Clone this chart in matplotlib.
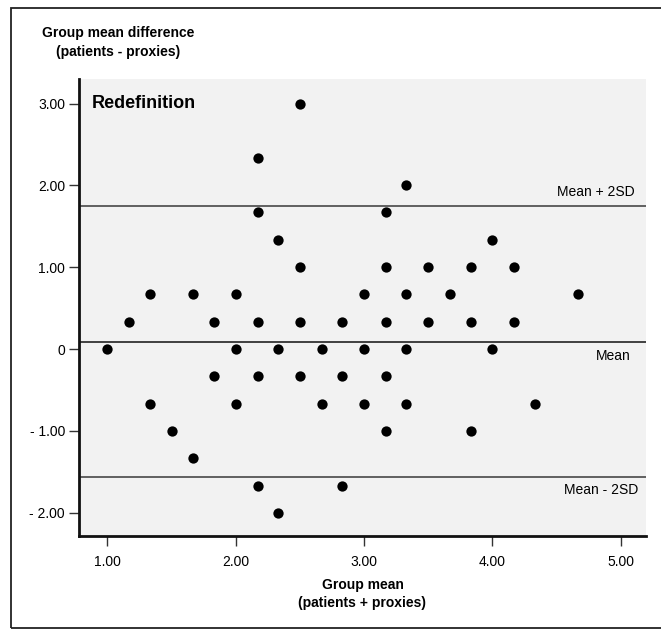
import matplotlib
matplotlib.use("Agg")
import matplotlib.pyplot as plt
from matplotlib.patches import Rectangle

plt.rcParams['font.family'] = ['Liberation Sans', 'DejaVu Sans']

# group mean (x) and group mean difference (y)
group_mean = [1.00, 1.17, 1.33, 1.33, 1.50, 1.67, 1.67, 1.83, 1.83,
              2.00, 2.00, 2.00, 2.17, 2.17, 2.17, 2.17, 2.17,
              2.33, 2.33, 2.33, 2.50, 2.50, 2.50, 2.50,
              2.67, 2.67, 2.83, 2.83, 2.83,
              3.00, 3.00, 3.00, 3.17, 3.17, 3.17, 3.17, 3.17,
              3.33, 3.33, 3.33, 3.33, 3.50, 3.50, 3.67,
              3.83, 3.83, 3.83, 4.00, 4.00, 4.17, 4.17, 4.33, 4.67]
mean_diff = [0.00, 0.33, 0.67, -0.67, -1.00, -1.33, 0.67, 0.33, -0.33,
             0.67, 0.00, -0.67, 2.33, 1.67, 0.33, -0.33, -1.67,
             1.33, 0.00, -2.00, 3.00, 1.00, 0.33, -0.33,
             0.00, -0.67, 0.33, -0.33, -1.67,
             0.67, 0.00, -0.67, 1.67, 1.00, 0.33, -0.33, -1.00,
             2.00, 0.67, 0.00, -0.67, 1.00, 0.33, 0.67,
             1.00, 0.33, -1.00, 1.33, 0.00, 1.00, 0.33, -0.67, 0.67]

ref_values = [1.75, 0.085, -1.56]
ref_labels = ["Mean + 2SD", "Mean", "Mean - 2SD"]

xticks = [1, 2, 3, 4, 5]
xtick_labels = ["1.00", "2.00", "3.00", "4.00", "5.00"]
yticks = [3, 2, 1, 0, -1, -2]
ytick_labels = ["3.00", "2.00", "1.00", "0", "- 1.00", "- 2.00"]

fig = plt.figure(figsize=(6.61, 6.31), dpi=100)
ax = fig.add_axes([0.1195, 0.1506, 0.8578, 0.7242])
ax.set_facecolor('#f2f2f2')

ax.scatter(group_mean, mean_diff, s=55, color='black', zorder=3, linewidths=0)

for v, lab in zip(ref_values, ref_labels):
    ax.axhline(v, color='#333333' if lab == "Mean" else '#555555', lw=1.3, zorder=2)
    if lab == "Mean + 2SD":
        ax.text(0.98, v + 0.08, lab, transform=ax.get_yaxis_transform(),
                ha='right', va='bottom', fontsize=10)
    elif lab == "Mean":
        ax.text(0.973, v - 0.08, lab, transform=ax.get_yaxis_transform(),
                ha='right', va='top', fontsize=10)
    else:
        ax.text(0.986, v - 0.08, lab, transform=ax.get_yaxis_transform(),
                ha='right', va='top', fontsize=10)

ax.text(0.023, 0.947, "Redefinition", transform=ax.transAxes,
        fontsize=13, fontweight='bold', ha='left', va='center')

ax.set_xlim(0.778, 5.198)
ax.set_ylim(-2.285, 3.30)
ax.set_xticks(xticks)
ax.set_xticklabels(xtick_labels, fontsize=10)
ax.set_yticks(yticks)
ax.set_yticklabels(ytick_labels, fontsize=10)
ax.tick_params(axis='both', direction='out', length=7, width=1, color='#333333')
ax.tick_params(axis='x', pad=7)
ax.tick_params(axis='y', pad=3)

for side in ['top', 'right']:
    ax.spines[side].set_visible(False)
for side in ['left', 'bottom']:
    ax.spines[side].set_linewidth(2)
    ax.spines[side].set_color('#111111')

ax.set_xlabel("Group mean\n(patients + proxies)", fontsize=10, fontweight='bold',
              labelpad=6, linespacing=1.35)

fig.text(118 / 661, 1 - 26 / 631, "Group mean difference\n(patients - proxies)",
         ha='center', va='top', fontsize=10, fontweight='bold', linespacing=1.45)

# outer frame (right edge runs past the image)
fig.patches.append(Rectangle((11 / 661, 1 - 628 / 631), 660 / 661, 620 / 631,
                             transform=fig.transFigure, fill=False,
                             edgecolor='#222222', lw=1.3))

fig.savefig("out.png", dpi=100)
